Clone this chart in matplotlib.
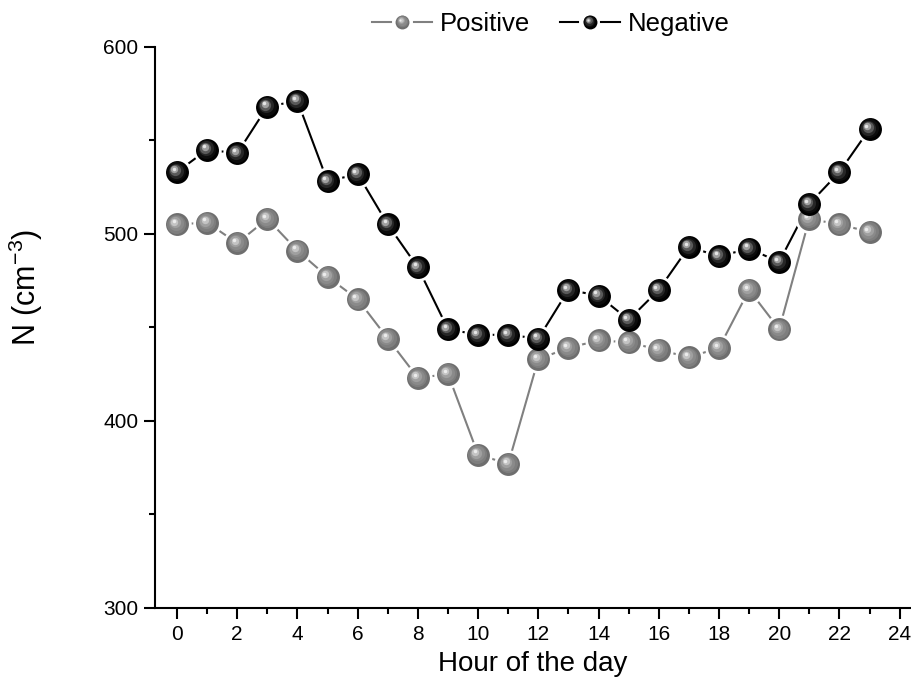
import matplotlib
matplotlib.use("Agg")
import matplotlib.pyplot as plt
from matplotlib.lines import Line2D
from matplotlib.transforms import offset_copy
from matplotlib.legend_handler import HandlerBase

plt.rcParams['font.family'] = ['Liberation Sans', 'DejaVu Sans']
plt.rcParams['mathtext.default'] = 'regular'

hours = list(range(24))
positive = [505, 506, 495, 508, 491, 477, 465, 444, 423, 425, 382, 377,
            433, 439, 443, 442, 438, 434, 439, 470, 449, 508, 505, 501]
negative = [533, 545, 543, 568, 571, 528, 532, 505, 482, 449, 446, 446,
            444, 470, 467, 454, 470, 493, 488, 492, 485, 516, 533, 556]

POS_LINE = '#808080'
NEG_LINE = '#000000'
POS_SHADES = ['#6e6e6e', '#7e7e7e', '#8a8a8a', '#a0a0a0', '#c4c4c4', '#ececec']
NEG_SHADES = ['#000000', '#0c0c0c', '#262626', '#5a5a5a', '#a0a0a0', '#e6e6e6']

fig = plt.figure(figsize=(9.12, 6.77), dpi=100)
ax = fig.add_axes([0.170, 0.102, 0.828, 0.829])


def sphere(ax, x, y, shades, size, z, transform=None):
    """Shaded ball markers: base disc plus lighter highlight discs offset up-left."""
    base = transform if transform is not None else ax.transData
    arts = []
    n = len(shades) - 1
    for i, c in enumerate(shades):
        frac = i / (n + 0.6)
        s = size * (1 - frac * 0.95)
        tr = offset_copy(base, fig=fig, x=-size * 0.16 * frac,
                         y=size * 0.16 * frac, units='points')
        arts += ax.plot(x, y, 'o', ms=s, mfc=c, mec=c, mew=0,
                        zorder=z + 0.01 * i, transform=tr)
    return arts


MS = 16.5

ax.plot(hours, positive, '-', color=POS_LINE, lw=1.5, zorder=2)
ax.plot(hours, negative, '-', color=NEG_LINE, lw=1.5, zorder=2.1)
# white halos so the lines stop short of the balls
ax.plot(hours, positive, 'o', ms=MS + 4, mfc='white', mec='white', mew=0, zorder=3)
ax.plot(hours, negative, 'o', ms=MS + 4, mfc='white', mec='white', mew=0, zorder=3)
sphere(ax, hours, positive, POS_SHADES, MS, 4)
sphere(ax, hours, negative, NEG_SHADES, MS, 5)

ax.set_xlim(-0.73, 24.35)
ax.set_ylim(300, 600)
ax.set_xticks(range(0, 25, 2))
ax.set_xticks(range(1, 25, 2), minor=True)
ax.set_yticks([300, 400, 500, 600])
ax.set_yticks([350, 450, 550], minor=True)

for s in ['top', 'right']:
    ax.spines[s].set_visible(False)
for s in ['left', 'bottom']:
    ax.spines[s].set_linewidth(1.5)

ax.tick_params(which='major', direction='out', length=8, width=1.5, labelsize=15, pad=4)
ax.tick_params(which='minor', direction='out', length=4, width=1.5)

ax.set_xlabel('Hour of the day', fontsize=20, labelpad=5)
ax.set_ylabel('N (cm$^{-3}$)', fontsize=22)
ax.yaxis.set_label_coords(-0.146, 0.572)


class BallHandler(HandlerBase):
    def __init__(self, color, shades):
        super().__init__()
        self.color = color
        self.shades = shades

    def create_artists(self, legend, orig_handle, xdescent, ydescent,
                       width, height, fontsize, trans):
        y = height / 2 - ydescent
        cx = width / 2 - xdescent
        gap = width * 0.19
        l1 = Line2D([-xdescent, cx - gap], [y, y], color=self.color, lw=1.5, transform=trans)
        l2 = Line2D([cx + gap, width - xdescent], [y, y], color=self.color, lw=1.5, transform=trans)
        arts = [l1, l2]
        n = len(self.shades) - 1
        size = 10
        for i, c in enumerate(self.shades):
            frac = i / (n + 0.6)
            s = size * (1 - frac * 0.95)
            tr = offset_copy(trans, fig=fig, x=-size * 0.16 * frac,
                             y=size * 0.16 * frac, units='points')
            arts.append(Line2D([cx], [y], marker='o', ms=s, mfc=c, mec=c, mew=0,
                               ls='none', transform=tr))
        return arts


h_pos = Line2D([], [], color=POS_LINE)
h_neg = Line2D([], [], color=NEG_LINE)
fig.legend([h_pos, h_neg], ['Positive', 'Negative'], loc='upper center',
           bbox_to_anchor=(0.604, 1.017), ncol=2, frameon=False, fontsize=18.5,
           handlelength=2.33, columnspacing=1.15, handletextpad=0.3,
           handler_map={h_pos: BallHandler(POS_LINE, POS_SHADES),
                        h_neg: BallHandler(NEG_LINE, NEG_SHADES)})

fig.savefig('out.png', dpi=100)
